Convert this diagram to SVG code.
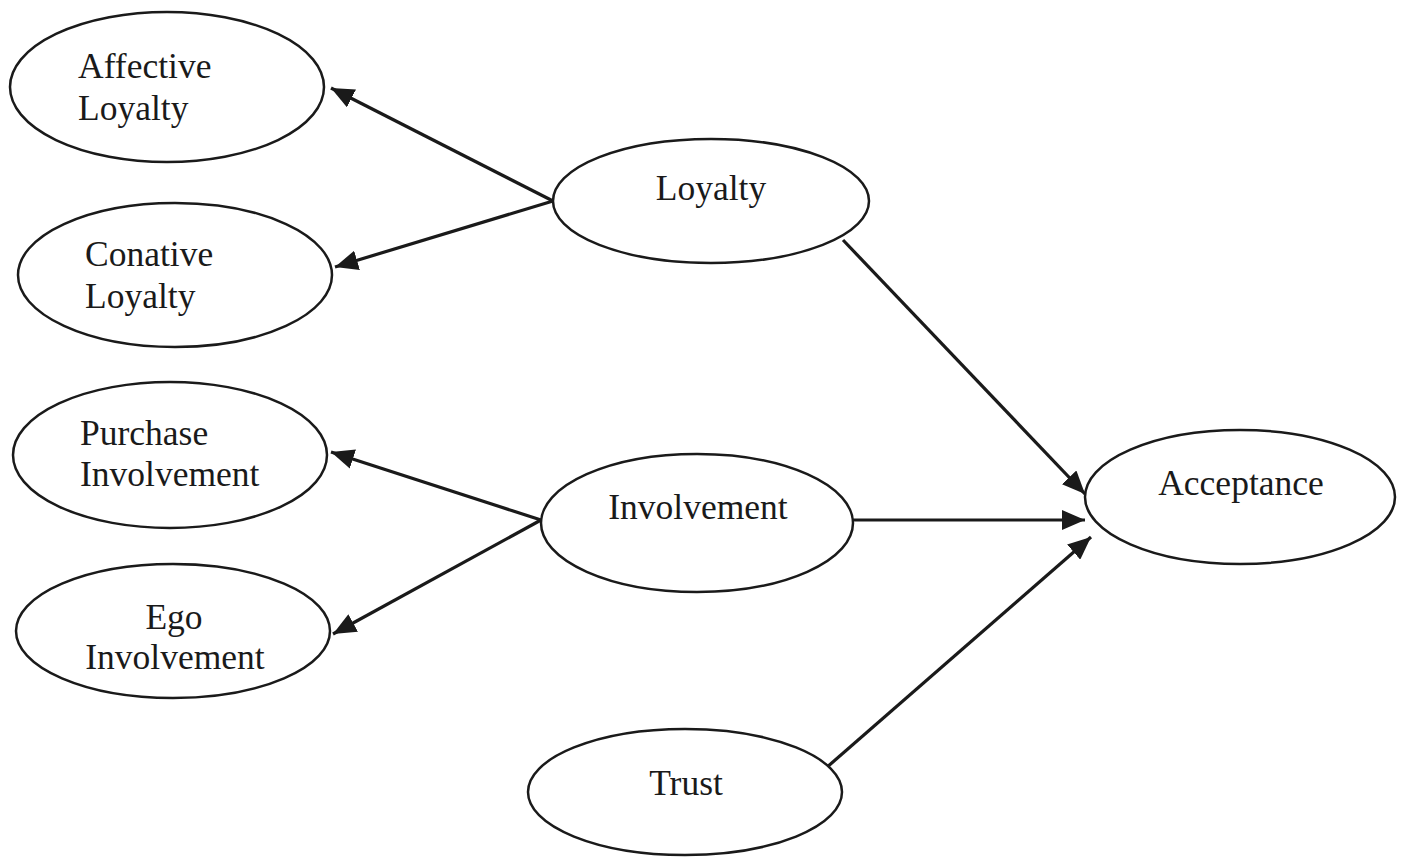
<svg xmlns="http://www.w3.org/2000/svg" width="1404" height="866" viewBox="0 0 1404 866">
  <style>
    .node ellipse { fill: #ffffff; stroke: #1a1a1a; stroke-width: 2.5; }
    .node text { font-family: "Liberation Serif", "Times New Roman", serif; font-size: 35.5px; fill: #1a1a1a; }
    .edge { stroke: #1a1a1a; stroke-width: 3.2; fill: none; marker-end: url(#arrow); }
  </style>
  <defs>
    <marker id="arrow" markerUnits="userSpaceOnUse" markerWidth="24" markerHeight="20" refX="23" refY="10" orient="auto">
      <path d="M0,0 L23,10 L0,20 Z" fill="#1a1a1a"/>
    </marker>
    <clipPath id="egoClip"><rect x="0" y="560" width="400" height="110"/></clipPath>
  </defs>
  <rect width="1404" height="866" fill="#ffffff"/>

  <g id="connectors">
    <line class="edge" x1="553" y1="201" x2="331" y2="88"/>
    <line class="edge" x1="553" y1="201" x2="335" y2="267"/>
    <line class="edge" x1="541" y1="520" x2="331" y2="452"/>
    <line class="edge" x1="541" y1="520" x2="333" y2="634"/>
    <line class="edge" x1="843" y1="240" x2="1085" y2="494"/>
    <line class="edge" x1="853" y1="520" x2="1085" y2="520"/>
    <line class="edge" x1="826" y1="768" x2="1091" y2="537"/>
  </g>

  <g id="affective-loyalty" class="node">
    <ellipse cx="167" cy="87" rx="157" ry="75"/>
    <text x="78" y="78">Affective</text>
    <text x="78" y="120">Loyalty</text>
  </g>
  <g id="conative-loyalty" class="node">
    <ellipse cx="175" cy="275" rx="157" ry="72"/>
    <text x="85" y="266">Conative</text>
    <text x="85" y="308">Loyalty</text>
  </g>
  <g id="purchase-involvement" class="node">
    <ellipse cx="170" cy="455" rx="157" ry="73"/>
    <text x="80" y="445">Purchase</text>
    <text x="80" y="486">Involvement</text>
  </g>
  <g id="ego-involvement" class="node">
    <ellipse cx="173" cy="631" rx="157" ry="67"/>
    <text x="174" y="629" text-anchor="middle">Ego</text>
    <text x="175" y="669" text-anchor="middle" clip-path="url(#egoClip)">Involvement</text>
  </g>
  <g id="loyalty" class="node">
    <ellipse cx="711" cy="201" rx="158" ry="62"/>
    <text x="711" y="200" text-anchor="middle">Loyalty</text>
  </g>
  <g id="involvement" class="node">
    <ellipse cx="697" cy="523" rx="156" ry="69"/>
    <text x="698" y="519" text-anchor="middle">Involvement</text>
  </g>
  <g id="trust" class="node">
    <ellipse cx="685" cy="792" rx="157" ry="63"/>
    <text x="686" y="795" text-anchor="middle">Trust</text>
  </g>
  <g id="acceptance" class="node">
    <ellipse cx="1240" cy="497" rx="155" ry="67"/>
    <text x="1241" y="495" text-anchor="middle">Acceptance</text>
  </g>
</svg>
